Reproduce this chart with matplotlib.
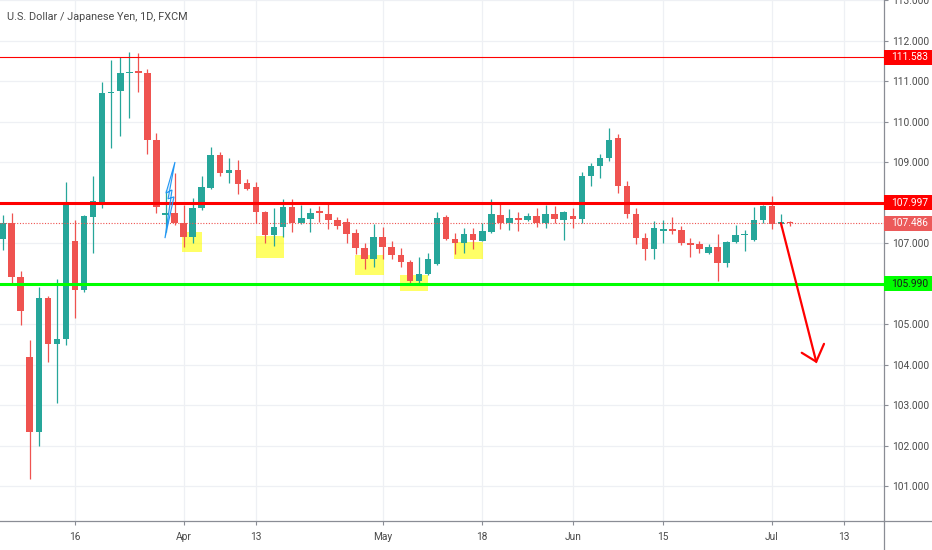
import matplotlib
matplotlib.use('Agg')
import matplotlib.pyplot as plt
import matplotlib.transforms as mtransforms
from matplotlib.patches import Rectangle, Polygon
from matplotlib import font_manager
import pandas as pd

# ---------------- data ----------------
dates = pd.bdate_range('2020-03-04', '2020-07-03')
opens = [107.09, 107.50, 106.15, 104.18, 102.34, 105.63, 104.51, 104.62, 107.06, 105.84,
         107.65, 108.00, 110.70, 110.76, 111.19, 111.22, 111.20, 109.54, 107.68, 107.75,
         107.49, 107.16, 107.86, 108.35, 109.17, 108.72, 108.80, 108.47, 108.39, 107.76,
         107.19, 107.40, 107.90, 107.50, 107.60, 107.76, 107.72, 107.57, 107.53, 107.24,
         106.87, 106.60, 107.14, 106.89, 106.70, 106.54, 106.07, 106.23, 106.48, 107.63,
         107.09, 107.00, 107.22, 107.06, 107.28, 107.69, 107.50, 107.61, 107.58, 107.67,
         107.50, 107.72, 107.58, 107.67, 107.59, 108.66, 108.90, 109.09, 109.59, 108.41,
         107.71, 107.13, 106.85, 107.29, 107.35, 107.32, 107.00, 106.97, 106.76, 106.91,
         106.51, 107.03, 107.19, 107.07, 107.57, 107.92, 107.47, 107.50]
highs = [107.69, 107.73, 106.32, 104.60, 105.92, 105.70, 106.10, 108.51, 107.57, 107.70,
         108.65, 110.98, 111.52, 111.59, 111.71, 111.68, 111.29, 109.71, 108.31, 108.72,
         107.94, 108.10, 108.65, 109.36, 109.25, 109.09, 109.05, 108.57, 108.51, 107.78,
         107.86, 108.08, 108.08, 107.94, 107.86, 107.91, 108.02, 107.63, 107.61, 107.34,
         106.99, 107.47, 107.40, 107.05, 106.87, 106.58, 106.65, 106.75, 107.76, 107.69,
         107.24, 107.36, 107.36, 107.50, 108.08, 107.98, 107.83, 107.77, 107.73, 107.87,
         107.94, 107.91, 107.78, 107.86, 108.76, 108.98, 109.20, 109.83, 109.69, 108.53,
         107.86, 107.24, 107.54, 107.57, 107.63, 107.42, 107.12, 107.05, 106.98, 107.22,
         107.05, 107.44, 107.32, 107.88, 107.94, 108.16, 107.72, 107.55]
lows = [106.83, 106.00, 104.98, 101.17, 101.99, 104.07, 103.06, 104.48, 105.14, 105.80,
        106.75, 107.86, 109.34, 109.64, 110.08, 110.74, 109.20, 107.73, 107.27, 107.45,
        106.91, 107.01, 107.81, 108.33, 108.66, 108.49, 108.20, 108.31, 107.50, 106.99,
        106.93, 107.16, 107.28, 107.47, 107.28, 107.53, 107.34, 107.34, 106.99, 106.73,
        106.35, 106.41, 106.60, 106.60, 106.40, 105.99, 106.00, 106.21, 106.46, 107.07,
        106.73, 106.76, 106.84, 107.05, 107.24, 107.34, 107.32, 107.30, 107.55, 107.39,
        107.36, 107.50, 107.07, 107.38, 107.49, 108.41, 108.60, 109.03, 108.24, 107.61,
        106.98, 106.58, 106.60, 106.99, 107.22, 106.95, 106.66, 106.76, 106.73, 106.07,
        106.40, 106.99, 106.80, 107.05, 107.50, 107.35, 107.40, 107.43]
closes = [107.50, 106.15, 105.33, 102.34, 105.63, 104.51, 104.63, 107.98, 105.84, 107.67,
          108.04, 110.70, 110.74, 111.19, 111.22, 111.20, 109.54, 107.90, 107.75, 107.49,
          107.16, 107.86, 108.38, 109.17, 108.72, 108.80, 108.46, 108.33, 107.76, 107.19,
          107.40, 107.90, 107.50, 107.61, 107.75, 107.74, 107.57, 107.42, 107.22, 106.87,
          106.60, 107.14, 106.89, 106.70, 106.52, 106.07, 106.23, 106.60, 107.62, 107.09,
          107.00, 107.22, 107.07, 107.30, 107.71, 107.50, 107.61, 107.57, 107.67, 107.50,
          107.72, 107.59, 107.76, 107.59, 108.66, 108.90, 109.09, 109.54, 108.41, 107.71,
          107.12, 106.85, 107.36, 107.34, 107.30, 106.99, 106.95, 106.84, 106.91, 106.51,
          107.03, 107.20, 107.21, 107.57, 107.92, 107.47, 107.50, 107.49]

axis_dates = pd.bdate_range('2020-03-04', '2020-07-31')
tick_dates = ['2020-03-16', '2020-04-01', '2020-04-13', '2020-05-01', '2020-05-18',
              '2020-06-01', '2020-06-15', '2020-07-01', '2020-07-13']
tick_labels = ['16', 'Apr', '13', 'May', '18', 'Jun', '15', 'Jul', '13']
price_ticks = [101, 102, 103, 104, 105, 107, 109, 110, 111, 112, 113]

level_values = [111.583, 107.997, 105.990]
last_price = 107.486
title = 'U.S. Dollar / Japanese Yen, 1D, FXCM'

# highlighted zones: (start idx, end idx, low, high)
zones_x0 = [19.8, 28.0, 38.9, 43.9, 49.9]
zones_x1 = [22.0, 31.1, 42.1, 47.0, 53.1]
zones_lo = [106.78, 106.64, 106.21, 105.81, 106.60]
zones_hi = [107.27, 107.17, 106.70, 106.21, 107.03]

# ---------------- style ----------------
UP = '#26a69a'
DOWN = '#ef5350'
GRID = '#eef0f4'
AXC = '#8a8d95'
TXT = '#4a4a4a'

available = {f.name for f in font_manager.fontManager.ttflist}
FONT = [f for f in ['Liberation Sans Narrow', 'Roboto', 'DejaVu Sans'] if f in available]
narrow = FONT[0] == 'Liberation Sans Narrow'
plt.rcParams['font.family'] = FONT
LS = 8.4 if narrow else 7.3
TS = 8.8 if narrow else 7.8

W, H = 932, 550
fig = plt.figure(figsize=(W / 100, H / 100), dpi=100)
fig.patch.set_facecolor('white')
AX_R = 884
AX_B = 521
ax = fig.add_axes([0, (H - AX_B) / H, AX_R / W, AX_B / H])
ax.set_facecolor('white')

idx = {d: i for i, d in enumerate(axis_dates)}
x = list(range(len(dates)))

ax.set_xlim(-0.287, 97.39)
ax.set_ylim(100.136, 113.0)

# grid
tick_pos = [idx[pd.Timestamp(d)] for d in tick_dates]
for tp in tick_pos:
    ax.axvline(tp, color=GRID, lw=0.9, zorder=0)
for p in range(101, 114):
    ax.axhline(p, color=GRID, lw=0.9, zorder=0)

# zones
for x0, x1, lo, hi in zip(zones_x0, zones_x1, zones_lo, zones_hi):
    ax.add_patch(Rectangle((x0, lo), x1 - x0, hi - lo, facecolor='#ffff00',
                           alpha=0.6, edgecolor='none', zorder=1))

# candles
bw = 0.72
for i in x:
    o, h, l, c = opens[i], highs[i], lows[i], closes[i]
    col = UP if c >= o else DOWN
    ax.vlines(i, l, h, color=col, lw=0.9, zorder=2)
    lo_b = min(o, c)
    hgt = max(abs(c - o), 0.04)
    ax.bar(i, hgt, bottom=lo_b, width=bw, color=col, edgecolor='none', zorder=3)

# levels
ax.axhline(level_values[0], color='#ff0000', lw=0.8, zorder=4)
ax.axhline(level_values[1], color='#ff0000', lw=2.2, zorder=4)
ax.axhline(level_values[2], color='#00ff00', lw=2.2, zorder=4)
ax.axhline(last_price, color=DOWN, lw=0.8, ls=(0, (1, 1.5)), zorder=4)

# blue drawing (lightning)
bolt = [(19.05, 109.00), (18.05, 108.23), (18.72, 108.31), (17.94, 107.12),
        (18.94, 108.14), (18.28, 108.09)]
ax.add_patch(Polygon(bolt, closed=True, facecolor='#2196f3', alpha=0.15,
                     edgecolor='none', zorder=5))
ax.add_patch(Polygon(bolt, closed=True, fill=False, edgecolor='#2196f3', lw=0.8,
                     zorder=5))

# red arrow
ax.plot([86.0, 89.9], [107.49, 104.07], color='#ff0000', lw=1.6, zorder=6,
        solid_capstyle='round')
ax.plot([88.3, 89.9, 90.76], [104.29, 104.07, 104.51], color='#ff0000', lw=1.6,
        zorder=6, solid_capstyle='round', solid_joinstyle='miter')

# axes styling
for s in ['top', 'left']:
    ax.spines[s].set_visible(False)
ax.spines['right'].set_color(AXC)
ax.spines['bottom'].set_color(AXC)
ax.spines['right'].set_linewidth(0.9)
ax.spines['bottom'].set_linewidth(0.9)
ax.yaxis.tick_right()
ax.set_yticks(price_ticks)
ax.set_yticklabels(['%.3f' % p for p in price_ticks])
ax.set_xticks(tick_pos)
ax.set_xticklabels(tick_labels)
ax.tick_params(axis='y', length=3, width=0.8, color=AXC, pad=2.5,
               labelsize=LS, labelcolor=TXT)
ax.tick_params(axis='x', length=3, width=0.8, color=AXC, pad=5,
               labelsize=LS, labelcolor=TXT)

# extend axis lines like the trading platform frame
fig.add_artist(plt.Line2D([AX_R / W, 1], [(H - AX_B) / H] * 2, color=AXC, lw=0.9,
                          transform=fig.transFigure))
fig.add_artist(plt.Line2D([AX_R / W] * 2, [0, (H - AX_B) / H], color=AXC, lw=0.9,
                          transform=fig.transFigure))

# price labels on axis
trans = mtransforms.blended_transform_factory(ax.transAxes, ax.transData)
box_h = 15 / 40.5
box_w = (W - AX_R) / AX_R
labels = [(level_values[0], '#ff0000', 'white'),
          (level_values[1], '#ff0000', 'white'),
          (last_price, '#ec5a5a', 'white'),
          (level_values[2], '#00ff00', '#1a1a1a')]
for val, fc, tc in labels:
    ax.add_patch(Rectangle((1.0, val - box_h / 2), box_w, box_h, transform=trans,
                           facecolor=fc, edgecolor='none', clip_on=False, zorder=10))
    ax.text(891.5 / AX_R, val, '%.3f' % val, transform=trans, ha='left',
            va='center', fontsize=LS, color=tc, zorder=11, clip_on=False)

fig.text(7 / W, 1 - 17 / H, title, ha='left', va='center', fontsize=TS, color=TXT)

fig.savefig('out.png', dpi=100)
